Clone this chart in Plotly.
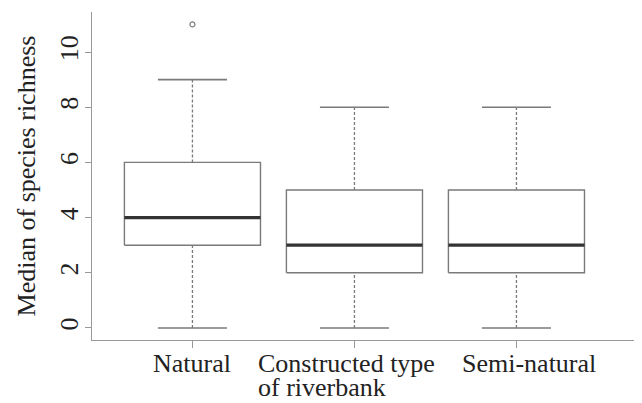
import plotly.graph_objects as go

categories = ["Natural", "Constructed type", "Semi-natural"]
category_second_line = ["", "of riverbank", ""]
whisker_low = [0, 0, 0]
q1 = [3, 2, 2]
median = [4, 3, 3]
q3 = [6, 5, 5]
whisker_high = [9, 8, 8]
outliers = [[11], [], []]
y_ticks = [0, 2, 4, 6, 8, 10]

FONT = "Liberation Serif"
TEXT = "#222222"
LINE = "#7a7a7a"
HALF_BOX = 0.42
HALF_CAP = 0.213
LABEL_XSHIFT = [0, -8, 13]   # horizontal nudges of the category labels (px)

fig = go.Figure()
for i, cat in enumerate(categories):
    x = i + 1
    fig.add_trace(go.Scatter(
        x=[x - HALF_BOX, x + HALF_BOX, x + HALF_BOX, x - HALF_BOX, x - HALF_BOX],
        y=[q1[i], q1[i], q3[i], q3[i], q1[i]],
        mode="lines", line=dict(color=LINE, width=1.4), hoverinfo="skip", showlegend=False))
    fig.add_trace(go.Scatter(
        x=[x - HALF_BOX, x + HALF_BOX], y=[median[i], median[i]],
        mode="lines", line=dict(color="#333333", width=3.2), hoverinfo="skip", showlegend=False))
    for a, b in [(whisker_low[i], q1[i]), (q3[i], whisker_high[i])]:
        fig.add_trace(go.Scatter(
            x=[x, x], y=[a, b], mode="lines",
            line=dict(color=LINE, width=1.3, dash="3px,2px"), hoverinfo="skip", showlegend=False))
    for v in [whisker_low[i], whisker_high[i]]:
        fig.add_trace(go.Scatter(
            x=[x - HALF_CAP, x + HALF_CAP], y=[v, v], mode="lines",
            line=dict(color=LINE, width=1.6), hoverinfo="skip", showlegend=False))
    if outliers[i]:
        fig.add_trace(go.Scatter(
            x=[x] * len(outliers[i]), y=outliers[i], mode="markers",
            marker=dict(symbol="circle-open", size=5, color=LINE, line=dict(width=1.2)),
            hoverinfo="skip", showlegend=False))
    # category label (first line)
    fig.add_annotation(
        x=x, xref="x", y=0, yref="paper", yshift=-7, yanchor="top",
        xanchor="center", xshift=LABEL_XSHIFT[i],
        text=cat, showarrow=False, font=dict(family=FONT, size=26, color=TEXT))
    if category_second_line[i]:
        fig.add_annotation(
            x=x, xref="x", y=0, yref="paper", yshift=-31, yanchor="top",
            xanchor="left", xshift=LABEL_XSHIFT[i] - 90,
            text=category_second_line[i], showarrow=False,
            font=dict(family=FONT, size=26, color=TEXT))

fig.update_layout(
    width=634, height=395,
    margin=dict(l=84, r=0, t=4, b=63),
    paper_bgcolor="white", plot_bgcolor="white",
    font=dict(family=FONT, size=26, color=TEXT),
    xaxis=dict(
        range=[0.38, 3.775], tickmode="array", tickvals=[1, 2, 3], ticktext=categories,
        showticklabels=False,
        showline=True, linecolor="#999999", linewidth=1.3, ticks="outside", ticklen=7,
        tickcolor="#999999", showgrid=False, zeroline=False,
        automargin=False,
    ),
    yaxis=dict(
        range=[-0.435, 11.45], tickmode="array", tickvals=y_ticks,
        ticktext=[str(v) for v in y_ticks], tickangle=-90,
        showline=True, linecolor="#999999", linewidth=1.3, ticks="outside", ticklen=6,
        tickcolor="#999999", showgrid=False, zeroline=False, tickfont=dict(size=26),
        automargin=False, ticklabelstandoff=-4,
        title=dict(text="Median of species richness", font=dict(size=26), standoff=12),
    ),
)
fig.write_html("out.html")
